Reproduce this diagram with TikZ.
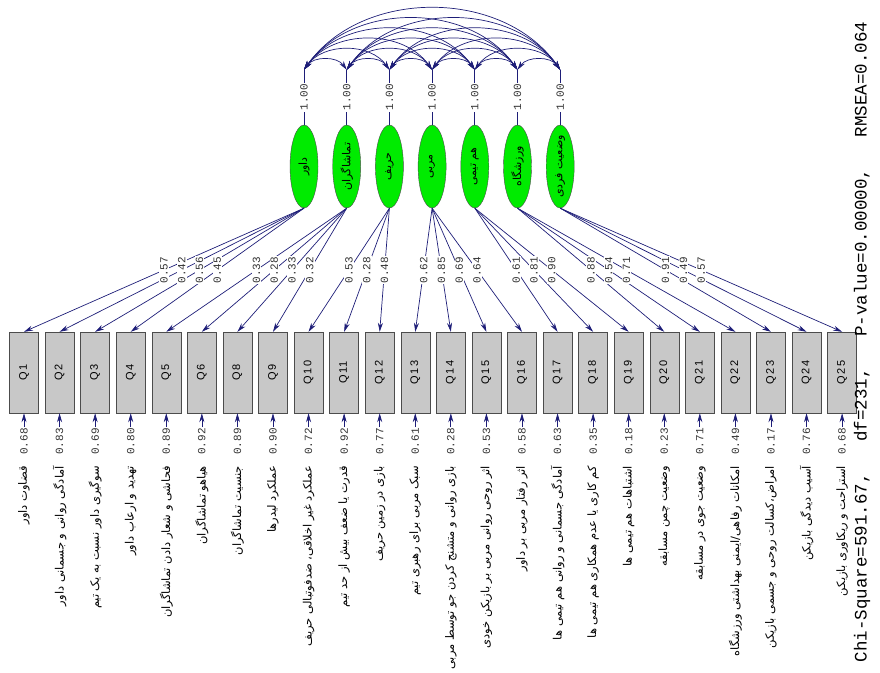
\documentclass[tikz,border=0pt]{standalone}
\usepackage{fontspec}
\usepackage{graphicx}
\setmainfont{Liberation Sans}
\newfontfamily\numfont{Liberation Mono}
\newfontfamily\qfont[LetterSpace=12]{Liberation Sans}
\newfontfamily\fa[Script=Arabic]{DejaVu Sans}
\TeXXeTstate=1
\usetikzlibrary{arrows.meta,shapes.geometric}
\definecolor{navy}{RGB}{30,30,120}
\definecolor{latgreen}{RGB}{0,235,0}
\definecolor{obsgray}{RGB}{200,200,200}
\newcommand{\up}[1]{\rotatebox{90}{#1}}
\newcommand{\fatext}[1]{\rotatebox{90}{\fa\beginR #1\endR}}
\newcommand{\fainner}[1]{\rotatebox{90}{\makebox[0pt]{\fa\beginR #1\endR}}}
% item / factor / loading / error / text
\def\itemlist{1/1/0.57/0.68/{قضاوت داور},
  2/1/0.42/0.83/{آمادگی روانی و جسمانی داور},
  3/1/0.56/0.69/{سوگیری داور نسبت به یک تیم},
  4/1/0.45/0.80/{تهدید و ارعاب داور},
  5/2/0.33/0.89/{فحاشی و شعار دادن تماشاگران},
  6/2/0.28/0.92/{هیاهو تماشاگران},
  8/2/0.33/0.89/{جنسیت تماشاگران},
  9/2/0.32/0.90/{عملکرد لیدرها},
  10/3/0.53/0.72/{عملکرد غیر اخلاقی، ضدفوتبالی حریف},
  11/3/0.28/0.92/{قدرت یا ضعف بیش از حد تیم},
  12/3/0.48/0.77/{بازی در زمین حریف},
  13/4/0.62/0.61/{سبک مربی برای رهبری تیم},
  14/4/0.85/0.28/{بازی روانی و متشنج کردن جو توسط مربی},
  15/4/0.69/0.53/{اثر روحی روانی مربی بر بازیکن خودی},
  16/4/0.64/0.58/{اثر رفتار مربی بر داور},
  17/5/0.61/0.63/{آمادگی جسمانی و روانی هم تیمی ها},
  18/5/0.81/0.35/{کم کاری یا عدم همکاری هم تیمی ها},
  19/5/0.90/0.18/{اشتباهات هم تیمی ها},
  20/6/0.88/0.23/{وضعیت چمن مسابقه},
  21/6/0.54/0.71/{وضعیت جوی در مسابقه},
  22/6/0.71/0.49/{امکانات رفاهی/ایمنی بهداشتی ورزشگاه},
  23/7/0.91/0.17/{امراض،کسالت روحی و جسمی بازیکن},
  24/7/0.49/0.76/{آسیب دیدگی بازیکن},
  25/7/0.57/0.68/{استراحت و ریکاوری بازیکن}}

\begin{document}
\begin{tikzpicture}[x=1pt,y=1pt,
  latent/.style={draw=black!70,fill=latgreen,ellipse,minimum width=28pt,minimum height=83pt,inner sep=0pt,font=\fa\fontsize{11}{11}\selectfont},
  obs/.style={draw=black!70,fill=obsgray,rectangle,minimum width=29pt,minimum height=81pt,inner sep=0pt,font=\qfont\fontsize{11}{11}\selectfont},
  val/.style={inner sep=1pt,fill=white,text=black!80,font=\numfont\fontsize{11}{11}\selectfont},
  desc/.style={inner sep=0pt,anchor=north,font=\fa\fontsize{11.5}{11.5}\selectfont},
  load/.style={draw=navy,line width=.7pt,-{Stealth[length=9pt,width=5pt]}},
  cov/.style={draw=navy,line width=.7pt,{Stealth[length=9pt,width=5pt]}-{Stealth[length=9pt,width=5pt]}}]
\useasboundingbox (0,0) rectangle (880,-672);

\node[latent] (f1) at (304,-166.5) {\fainner{داور}};
\node[latent] (f2) at (346.7,-166.5) {\fainner{تماشاگران}};
\node[latent] (f3) at (389.4,-166.5) {\fainner{حریف}};
\node[latent] (f4) at (432.1,-166.5) {\fainner{مربی}};
\node[latent] (f5) at (474.8,-166.5) {\fainner{هم تیمی}};
\node[latent] (f6) at (517.5,-166.5) {\fainner{ورزشگاه}};
\node[latent] (f7) at (560.2,-166.5) {\fainner{وضعیت فردی}};

\foreach \i in {1,...,7}{
  \coordinate (t\i) at ([yshift=55pt]f\i.north);
  \draw[navy,line width=.7pt] (f\i.north) -- node[val]{\up{1.00}} (t\i);
}
\foreach \i in {1,...,6}{
  \pgfmathtruncatemacro\k{\i+1}
  \foreach \j in {\k,...,7}
    \draw[cov] (t\i) to[bend left=55] (t\j);
}

\foreach \n/\fac/\ld/\er/\txt [count=\k from 0] in \itemlist{
  \node[obs] (q\n) at ({24+35.57*\k},-372.5) {\up{Q\n}};
  \node[val,anchor=north] (e\n) at ({24+35.57*\k},-427) {\up{\er}};
  \node[desc] (d\n) at ([yshift=-10pt]e\n.south) {\fatext{\txt}};
  \draw[load] (e\n) -- (q\n);
  \draw[load] (f\fac.south) -- (q\n.north);
}
\foreach \n/\fac/\ld/\er/\txt in \itemlist
  \path (f\fac.south) -- node[val]{\up{\ld}} (q\n.north);

\node[font=\numfont\fontsize{17.5}{17.5}\selectfont,anchor=north] (fit) at (862,-18)
  {\up{Chi-Square=591.67,~~~df=231,~~~P-value=0.00000,~~~RMSEA=0.064}};
\end{tikzpicture}
\end{document}
